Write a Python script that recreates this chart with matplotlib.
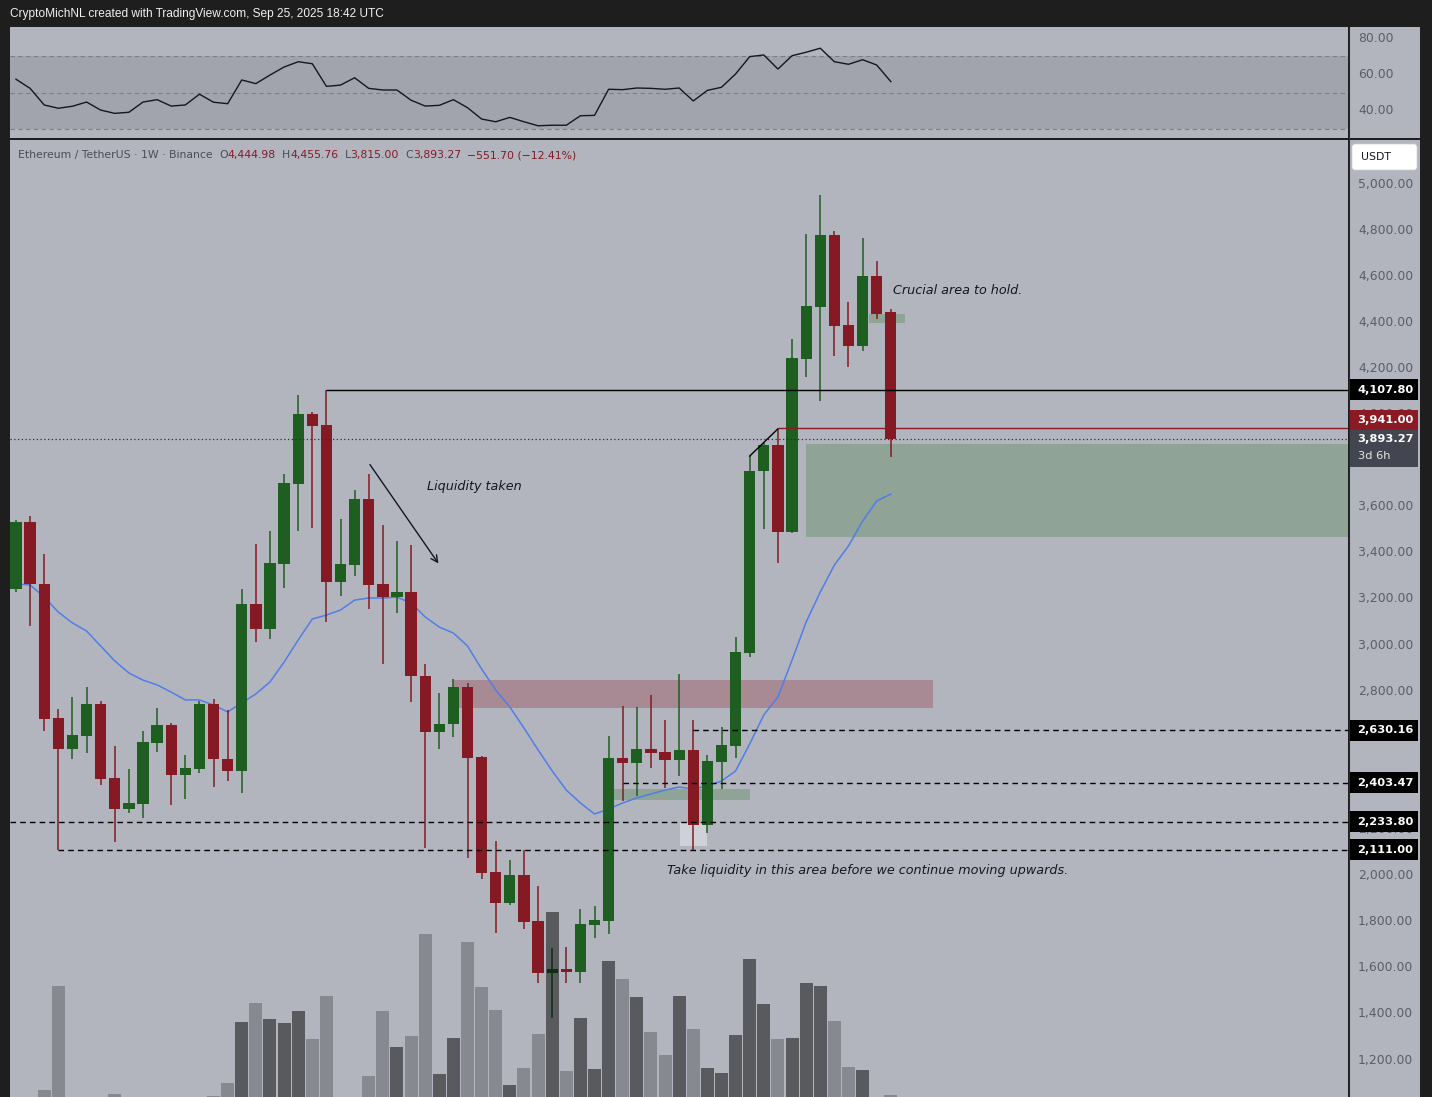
import matplotlib.pyplot as plt
import numpy as np
from matplotlib.patches import Rectangle, FancyBboxPatch
from matplotlib.lines import Line2D
from matplotlib import font_manager

# ETH/USDT weekly candles (Binance 1W)
opens = [3242, 3532, 3263, 2683, 2550, 2605, 2744, 2423, 2290, 2312,
         2577, 2653, 2435, 2464, 2744, 2504, 2452, 3178, 3071, 3353,
         3700, 4002, 3955, 3275, 3349, 3633, 3265, 3210, 3230, 2864,
         2621, 2656, 2818, 2514, 2015, 1882, 2001, 1803, 1576, 1593,
         1582, 1787, 1804, 2510, 2490, 2549, 2536, 2503, 2545, 2221,
         2494, 2563, 2965, 3755, 3868, 3492, 4242, 4468, 4779, 4388,
         4299, 4600, 4444.98]
highs = [3542, 3560, 3395, 2721, 2773, 2817, 2759, 2562, 2464, 2628,
         2727, 2663, 2522, 2759, 2767, 2718, 3243, 3438, 3495, 3741,
         4085, 4010, 4107.80, 3545, 3673, 3741, 3521, 3451, 3435, 2918,
         2791, 2851, 2834, 2519, 2150, 2067, 2111, 1955, 1684, 1690,
         1854, 1868, 2605, 2736, 2733, 2785, 2675, 2874, 2675, 2523,
         2646, 3035, 3820, 3875, 3938, 4328, 4783, 4952, 4796, 4488,
         4764, 4666, 4455.76]
lows = [3231, 3084, 2628, 2111, 2507, 2533, 2392, 2147, 2273, 2251,
        2537, 2306, 2331, 2444, 2383, 2409, 2357, 3014, 3027, 3249,
        3495, 3509, 3101, 3214, 3301, 3158, 2918, 3140, 2752, 2121,
        2548, 2602, 2075, 1986, 1752, 1871, 1767, 1535, 1383, 1535,
        1535, 1730, 1748, 2322, 2345, 2467, 2381, 2433, 2108, 2186,
        2374, 2511, 2950, 3502, 3354, 3488, 4164, 4060, 4255, 4207,
        4277, 4413, 3815.00]
closes = [3532, 3263, 2680, 2550, 2608, 2744, 2420, 2290, 2315, 2579,
          2653, 2435, 2467, 2744, 2504, 2452, 3178, 3071, 3356, 3703,
          4002, 3951, 3275, 3352, 3633, 3262, 3210, 3230, 2864, 2621,
          2656, 2818, 2511, 2012, 1882, 2001, 1800, 1576, 1593, 1582,
          1790, 1807, 2510, 2490, 2549, 2533, 2503, 2545, 2221, 2497,
          2566, 2970, 3755, 3868, 3492, 4245, 4471, 4779, 4385, 4299,
          4600, 4437, 3893.27]
# volume, relative units
volume = [0, 0, 7, 111, 0, 0, 0, 3, 0, 0,
          0, 0, 0, 0, 1, 14, 75, 94, 78, 74,
          86, 58, 101, 0, 0, 21, 86, 50, 61, 163,
          23, 59, 155, 110, 87, 12, 29, 63, 185, 26,
          79, 28, 136, 118, 100, 65, 42, 101, 68, 29,
          24, 62, 138, 93, 58, 59, 114, 111, 76, 30,
          27, 0, 2]
ma20 = [3265, 3261, 3208, 3143, 3096, 3061, 2996, 2931, 2879, 2848,
        2827, 2796, 2762, 2762, 2740, 2710, 2749, 2788, 2840, 2926,
        3022, 3113, 3130, 3152, 3195, 3204, 3204, 3208, 3182, 3122,
        3078, 3052, 2996, 2896, 2805, 2731, 2640, 2545, 2454, 2371,
        2315, 2267, 2289, 2315, 2337, 2354, 2371, 2384, 2376, 2389,
        2410, 2454, 2571, 2697, 2775, 2935, 3100, 3230, 3347, 3430,
        3538, 3625, 3655]
rsi = [57.4, 52.4, 43.3, 41.5, 42.6, 44.9, 40.5, 38.7, 39.3, 44.9,
       46.2, 42.7, 43.3, 49.2, 44.8, 44.0, 57.0, 55.0, 59.7, 64.1,
       67.0, 65.9, 53.5, 54.2, 58.2, 52.4, 51.5, 51.5, 45.9, 42.7,
       43.1, 46.2, 41.8, 35.6, 34.1, 36.5, 34.1, 31.9, 32.2, 32.2,
       37.4, 37.6, 51.9, 51.7, 52.6, 52.4, 51.9, 52.6, 45.5, 51.3,
       53.0, 60.3, 69.8, 70.7, 63.0, 70.3, 72.2, 74.4, 67.0, 65.6,
       68.1, 65.2, 56.1]

price_ticks = list(range(1200, 5001, 200))
hidden_ticks = [3800, 2600]  # sit fully under the level tags
rsi_ticks = [40, 60, 80]

# horizontal levels: price, first candle, style
levels = [(4107.80, 22, '-', '#000000'),
          (3941.00, 54, '-', '#8b1a24'),
          (2630.16, 48, '--', '#000000'),
          (2403.47, 43, '--', '#000000'),
          (2233.80, -1, '--', '#000000'),
          (2111.00, 3, '--', '#000000')]
last_price = 3893.27

# zones: x from, x to (None = right edge), low, high, colour
zones = [(56, None, 3469, 3872, '#8fa396'),
         (31, 65, 2727, 2848, '#a88a95'),
         (42.4, 52, 2328, 2375, '#90a397'),
         (60.45, 63, 4396, 4436, '#90a397'),
         (47.06, 48.95, 2130, 2229, '#cfd1d8')]

BG = '#b2b5be'
DARK = '#1e1e1e'
GREEN = '#1e5e20'
RED = '#851a24'
INK = '#131722'
AXTXT = '#5a5d66'

installed = {f.name for f in font_manager.fontManager.ttflist}
narrow = 'Liberation Sans Narrow' if 'Liberation Sans Narrow' in installed else 'Liberation Sans'

W, H = 1432, 1097
fig = plt.figure(figsize=(W / 100, H / 100), dpi=100, facecolor=DARK)

# pixel layout of the screenshot
px_step, px_x0 = 14.11, 16
xlim = ((10 - px_x0) / px_step, (1348 - px_x0) / px_step)
ylim = (1039.5, 5190.9)
ppu = (ylim[1] - ylim[0]) / 957  # price units per pixel

ax = fig.add_axes([10 / W, 0, 1338 / W, 957 / H])
ax.set_facecolor(BG)
ax.set_xlim(xlim)
ax.set_ylim(ylim)
ax.set_xticks([])
ax.set_yticks([])
for s in ax.spines.values():
    s.set_visible(False)

idx = np.arange(len(opens))
o, h, l, c = map(np.array, (opens, highs, lows, closes))
up = c >= o
cols = np.where(up, GREEN, RED)

# zones behind everything
for x0, x1, lo, hi, col in zones:
    x1 = xlim[1] if x1 is None else x1
    ax.add_patch(Rectangle((x0, lo), x1 - x0, hi - lo, color=col, lw=0, zorder=0.5))

ax.plot(idx, ma20, color='#4f7fe6', lw=1.1, zorder=2)

ax.vlines(idx, l, h, colors=cols, lw=1.1, zorder=3)
ax.bar(idx, np.maximum(np.abs(c - o), ppu), bottom=np.minimum(o, c), width=0.8,
       color=cols, zorder=4)

for price, start, ls, col in levels:
    x0 = xlim[0] if start < 0 else start
    ax.hlines(price, x0, xlim[1], colors=col, lw=1,
              linestyles=(0, (4, 3)) if ls == '--' else '-', zorder=5)
ax.axhline(last_price, color='#2a2e39', lw=0.9, ls=(0, (1, 2)), zorder=5)
ax.plot([52, 54], [highs[52], highs[54]], color='#000000', lw=1, zorder=5)

ax.annotate('', xy=(30.05, 3344), xytext=(24.97, 3793),
            arrowprops=dict(arrowstyle='->', color=INK, lw=1, mutation_scale=12), zorder=6)
ann = dict(style='italic', color=INK, fontsize=9.2, va='center', ha='left', zorder=6)
ax.text(29.13, 3686, 'Liquidity taken', **ann)
ax.text(62.15, 4536, 'Crucial area to hold.', **ann)
ax.text(46.14, 2024, 'Take liquidity in this area before we continue moving upwards.', **ann)

# volume drawn over the candles as translucent black
vax = ax.twinx()
vax.set_ylim(0, 957)
vcols = [(0, 0, 0, 0.5) if u else (0, 0, 0, 0.24) for u in up]
vax.bar(idx, volume, width=0.92, color=vcols, lw=0)
vax.set_xlim(xlim)
vax.set_yticks([])
for s in vax.spines.values():
    s.set_visible(False)

# price scale
aps = fig.add_axes([1349 / W, 0, 71 / W, 957 / H])
aps.set_facecolor(BG)
aps.set_xlim(0, 71)
aps.set_ylim(ylim)
aps.set_xticks([])
aps.set_yticks([])
for s in aps.spines.values():
    s.set_visible(False)
for p in price_ticks:
    if p in hidden_ticks:
        continue
    aps.text(9, p, f'{p:,.2f}', color=AXTXT, fontsize=8.9, va='center', ha='left')

box_txt = dict(color='white', fontsize=8.2, fontweight='bold', va='center', ha='left', zorder=6)
for price, start, ls, col in levels:
    centre = price if price != 3941.00 else price + 8.1 * ppu
    aps.add_patch(Rectangle((0.5, centre - 10.5 * ppu), 68, 21 * ppu, color=col, lw=0, zorder=5))
    aps.text(8.5, centre, f'{price:,.2f}', **box_txt)
top = last_price + 9 * ppu
aps.add_patch(Rectangle((0.5, top - 37 * ppu), 68, 37 * ppu, color='#434651', lw=0, zorder=5))
aps.text(8.5, last_price, f'{last_price:,.2f}', **box_txt)
aps.text(8.5, last_price - 17 * ppu, '3d 6h', color='#e6e6e6', fontsize=8.2, va='center', ha='left', zorder=6)

aps.add_patch(FancyBboxPatch((3, 5000 + 14 * ppu), 65, 26 * ppu,
                             boxstyle='round,pad=0,rounding_size=3', mutation_aspect=ppu,
                             fc='white', ec='#d0d0d0', lw=0.5, zorder=5))
aps.text(12, 5000 + 27 * ppu, 'USDT', color='#131722', fontsize=7.8, va='center', ha='left', zorder=6)

# RSI pane
ar = fig.add_axes([10 / W, 1 - 138 / H, 1338 / W, 111 / H])
ar.set_facecolor(BG)
ar.set_xlim(xlim)
rlim = (25.2, 86.03)
ar.set_ylim(rlim)
ar.axhspan(30, 70, color='#a1a4ad', lw=0)
for lv in (30, 50, 70):
    ar.axhline(lv, color='#7c7f88', lw=0.8, ls=(0, (4, 3)))
ar.plot(idx, rsi, color=INK, lw=1)
ar.set_xticks([])
ar.set_yticks([])
for s in ar.spines.values():
    s.set_visible(False)

ars = fig.add_axes([1349 / W, 1 - 138 / H, 71 / W, 111 / H])
ars.set_facecolor(BG)
ars.set_xlim(0, 71)
ars.set_ylim(rlim)
ars.set_xticks([])
ars.set_yticks([])
for s in ars.spines.values():
    s.set_visible(False)
for t in rsi_ticks:
    ars.text(9, t, f'{t:.2f}', color=AXTXT, fontsize=8.9, va='center', ha='left')

# separators
fig.add_artist(Line2D([1348.5 / W] * 2, [0, 1 - 27 / H], color='#2a2a2a', lw=0.8))

# header texts
fig.text(10 / W, 1 - 14 / H, 'CryptoMichNL created with TradingView.com, Sep 25, 2025 18:42 UTC',
         color='#f0f0f0', fontsize=8.6, family=narrow, va='center', ha='left')

t = fig.text(18 / W, 1 - 155 / H, 'Ethereum / TetherUS · 1W · Binance', color='#4a4d57',
             fontsize=7.8, va='center', ha='left')
parts = [('O', '#4a4d57', 4.5), ('4,444.98', RED, 0), ('H', '#4a4d57', 4.5), ('4,455.76', RED, 0),
         ('L', '#4a4d57', 4.5), ('3,815.00', RED, 0), ('C', '#4a4d57', 4.5), ('3,893.27', RED, 0),
         ('\u2212551.70 (\u221212.41%)', RED, 4.5)]
for s, col, gap in parts:
    t = ax.annotate(s, xy=(1, 0.5), xycoords=t, xytext=(gap, 0), textcoords='offset points',
                    color=col, fontsize=7.8, va='center', ha='left')

fig.savefig('out.png', dpi=100, facecolor=fig.get_facecolor())
